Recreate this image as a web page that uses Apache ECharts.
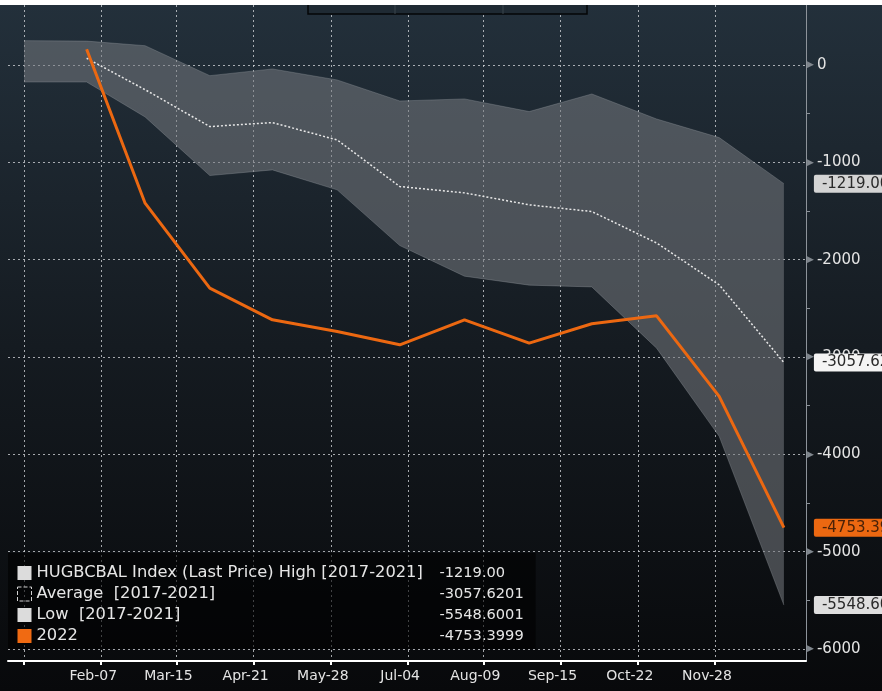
<!DOCTYPE html>
<html><head><meta charset="utf-8">
<script src="https://cdn.jsdelivr.net/npm/echarts@6/dist/echarts.min.js"></script>
<style>html,body{margin:0;padding:0;background:#fff}#c{width:882px;height:691px}</style>
</head><body><div id="c"></div>
<script>
// ---------- data ----------
const monthEnds = ['2022-01-31','2022-02-28','2022-03-31','2022-04-30','2022-05-31','2022-06-30',
                   '2022-07-31','2022-08-31','2022-09-30','2022-10-31','2022-11-30','2022-12-31'];
const bandDates = ['2022-01-01'].concat(monthEnds);
const highVals = [250, 245, 198, -110, -41, -154, -370, -349, -479, -298, -555, -746, -1219.00];
const lowVals  = [-175, -175, -534, -1136, -1078, -1283, -1855, -2170, -2262, -2280, -2909, -3815, -5548.6001];
const avgVals  = [69, -254, -633, -592, -770, -1249, -1314, -1437, -1506, -1828, -2259, -3057.6201];
const vals2022 = [161, -1420, -2293, -2618, -2738, -2875, -2618, -2857, -2659, -2577, -3405, -4753.3999];
const yTickVals = [-6000, -5000, -4000, -3000, -2000, -1000, 0];
const yMinorTickVals = [-5500, -4500, -3500, -2500, -1500, -500];
const xTickDates = ['2022-01-01','2022-02-07','2022-03-15','2022-04-21','2022-05-28','2022-07-04',
                    '2022-08-09','2022-09-15','2022-10-22','2022-11-28'];
const xLabelDates = xTickDates.slice(1);
const monthNames = ['Jan','Feb','Mar','Apr','May','Jun','Jul','Aug','Sep','Oct','Nov','Dec'];
const seriesNames = ['HUGBCBAL Index (Last Price) High [2017-2021]', 'Average  [2017-2021]', 'Low  [2017-2021]', '2022'];
const legendValueTexts = ['-1219.00', '-3057.6201', '-5548.6001', '-4753.3999'];

// ---------- helpers ----------
function ts(s){ const p = s.split('-').map(Number); return new Date(p[0], p[1]-1, p[2]).getTime(); }
function trunc2(v){ const t = Math.trunc(v*100)/100; return t.toFixed(2); }
const FONT = 'DejaVu Sans';
const last = a => a[a.length-1];

const bandTs   = bandDates.map(ts);
const highData = bandDates.map((d,i) => [ts(d), highVals[i]]);
const lowData  = bandDates.map((d,i) => [ts(d), lowVals[i]]);
const bandData = bandDates.map((d,i) => [ts(d), lowVals[i], highVals[i]]);
const avgData  = monthEnds.map((d,i) => [ts(d), avgVals[i]]);
const data2022 = monthEnds.map((d,i) => [ts(d), vals2022[i]]);

function tag(bg, fg, text){
  return { show:true, distance: 30, formatter: () => text, backgroundColor: bg, color: fg,
           fontFamily: FONT, fontSize: 15, padding: [2,4,1,8], borderRadius: 2 };
}

function renderBand(params, api){
  if (params.dataIndex !== 0) return null;
  const pts = [];
  for (let i = 0; i < bandTs.length; i++) pts.push(api.coord([bandTs[i], highVals[i]]));
  for (let i = bandTs.length - 1; i >= 0; i--) pts.push(api.coord([bandTs[i], lowVals[i]]));
  return {type:'polygon', shape:{points: pts}, style:{fill:'rgba(118,122,127,0.55)'}, silent:true};
}

const chart = echarts.init(document.getElementById('c'), null, {renderer:'canvas'});
chart.setOption({
  animation: false,
  backgroundColor: {type:'linear', x:0, y:0, x2:0, y2:1,
    colorStops:[{offset:0,color:'#23303b'},{offset:0.5,color:'#151b21'},{offset:1,color:'#08090b'}]},
  textStyle: {fontFamily: FONT},
  grid: {left: 8, right: 76, top: 5, bottom: 30},
  xAxis: {
    type: 'value',
    min: new Date(2021,11,24,8).getTime(),
    max: new Date(2023,0,10,14).getTime(),
    axisLine: {show:true, onZero:false, lineStyle:{color:'#ffffff', width:2}},
    axisTick: {show:true, length:4, lineStyle:{color:'#ffffff', width:2}, customValues: xTickDates.map(ts)},
    axisLabel: {color:'#e4e4e4', fontSize:14, fontFamily: FONT, margin: 8, padding:[0,16,0,0],
      customValues: xLabelDates.map(ts),
      formatter: v => { const d = new Date(v); return monthNames[d.getMonth()] + '-' + String(d.getDate()).padStart(2,'0'); }},
    splitLine: {show:true, lineStyle:{color:'rgba(215,218,222,0.75)', type:[2,3], width:1}}
  },
  yAxis: [{
    type: 'value', position: 'right', min: -6123, max: 616,
    axisLine: {show:true, lineStyle:{color:'#8d939a', width:1}},
    axisTick: {show:false, customValues: yTickVals},
    axisLabel: {customValues: yTickVals, margin: 1,
      formatter: v => '{t|\u25B6}{v|' + v + '}',
      rich: {t:{color:'#80878e', fontSize:9, fontFamily: FONT, padding:[0,3,0,0]},
             v:{color:'#e4e4e4', fontSize:15, fontFamily: FONT}}},
    splitLine: {show:true, lineStyle:{color:'rgba(215,218,222,0.75)', type:[2,3], width:1}}
  },{
    type: 'value', position: 'left', offset: -798, min: -6123, max: 616,
    axisLine: {show:false},
    axisTick: {show:true, inside:true, length:4, customValues: yMinorTickVals, lineStyle:{color:'#8d939a'}},
    axisLabel: {show:false},
    splitLine: {show:false}
  }],
  legend: {
    left: 8, top: 553, orient: 'vertical',
    backgroundColor: 'rgba(0,0,0,0.6)',
    padding: [12, 12, 5, 9],
    itemWidth: 14, itemHeight: 14, itemGap: 5,
    selectedMode: false,
    data: [
      {name: seriesNames[0], icon:'rect', itemStyle:{color:'#dcdcdc', borderWidth:0}},
      {name: seriesNames[1], icon:'rect', itemStyle:{color:'rgba(0,0,0,0)', borderColor:'#d0d0d0', borderWidth:1, borderType:'dashed'}},
      {name: seriesNames[2], icon:'rect', itemStyle:{color:'#dcdcdc', borderWidth:0}},
      {name: seriesNames[3], icon:'rect', itemStyle:{color:'#f06a12', borderWidth:0}}
    ],
    formatter: name => {
      const i = seriesNames.indexOf(name);
      return '{n|' + name + '}{v|' + legendValueTexts[i] + '}';
    },
    textStyle: {color:'#e6e6e6', fontFamily: FONT, fontSize: 16, padding:[0,0,0,0],
      rich: {n:{width: 403, fontSize:16.3, fontFamily: FONT, color:'#e6e6e6', lineHeight:14},
             v:{fontSize:14.6, fontFamily: FONT, color:'#e6e6e6', lineHeight:14}}}
  },
  graphic: [
    {type:'rect', shape:{x:308, y:-4, width:279, height:18}, style:{fill:'#1f2a33', stroke:'#050607', lineWidth:1.5}, z:100},
    {type:'line', shape:{x1:395, y1:0, x2:395, y2:14}, style:{stroke:'#3a444d', lineWidth:1}, z:101},
    {type:'line', shape:{x1:503, y1:0, x2:503, y2:14}, style:{stroke:'#3a444d', lineWidth:1}, z:101},
    {type:'rect', shape:{x:0, y:0, width:882, height:5}, style:{fill:'#ffffff'}, z:102}
  ],
  series: [
    {name: 'band', type:'custom', renderItem: renderBand, data: bandData,
     encode:{x:0, y:[1,2]}, z:1, silent:true},
    {name: seriesNames[2], type:'line', data: lowData,
     symbol:'none', lineStyle:{color:'rgba(150,155,160,0.35)', width:1}, z:2,
     endLabel: tag('#dedede', '#2a2a2a', trunc2(last(lowVals)))},
    {name: seriesNames[0], type:'line', data: highData,
     symbol:'none', lineStyle:{color:'rgba(150,155,160,0.35)', width:1}, z:2,
     endLabel: tag('#d4d4d4', '#2a2a2a', trunc2(last(highVals)))},
    {name: seriesNames[1], type:'line', data: avgData, symbol:'none', z:3,
     lineStyle:{color:'#e8e8e8', width:1.5, type:[2,2]},
     endLabel: tag('#f4f4f4', '#2a2a2a', trunc2(last(avgVals)))},
    {name: seriesNames[3], type:'line', data: data2022, symbol:'none', z:4,
     itemStyle:{color:'#ec6811'},
     lineStyle:{color:'#ec6811', width:3},
     endLabel: tag('#ec6811', '#4a2208', trunc2(last(vals2022)))}
  ]
});
</script></body></html>
